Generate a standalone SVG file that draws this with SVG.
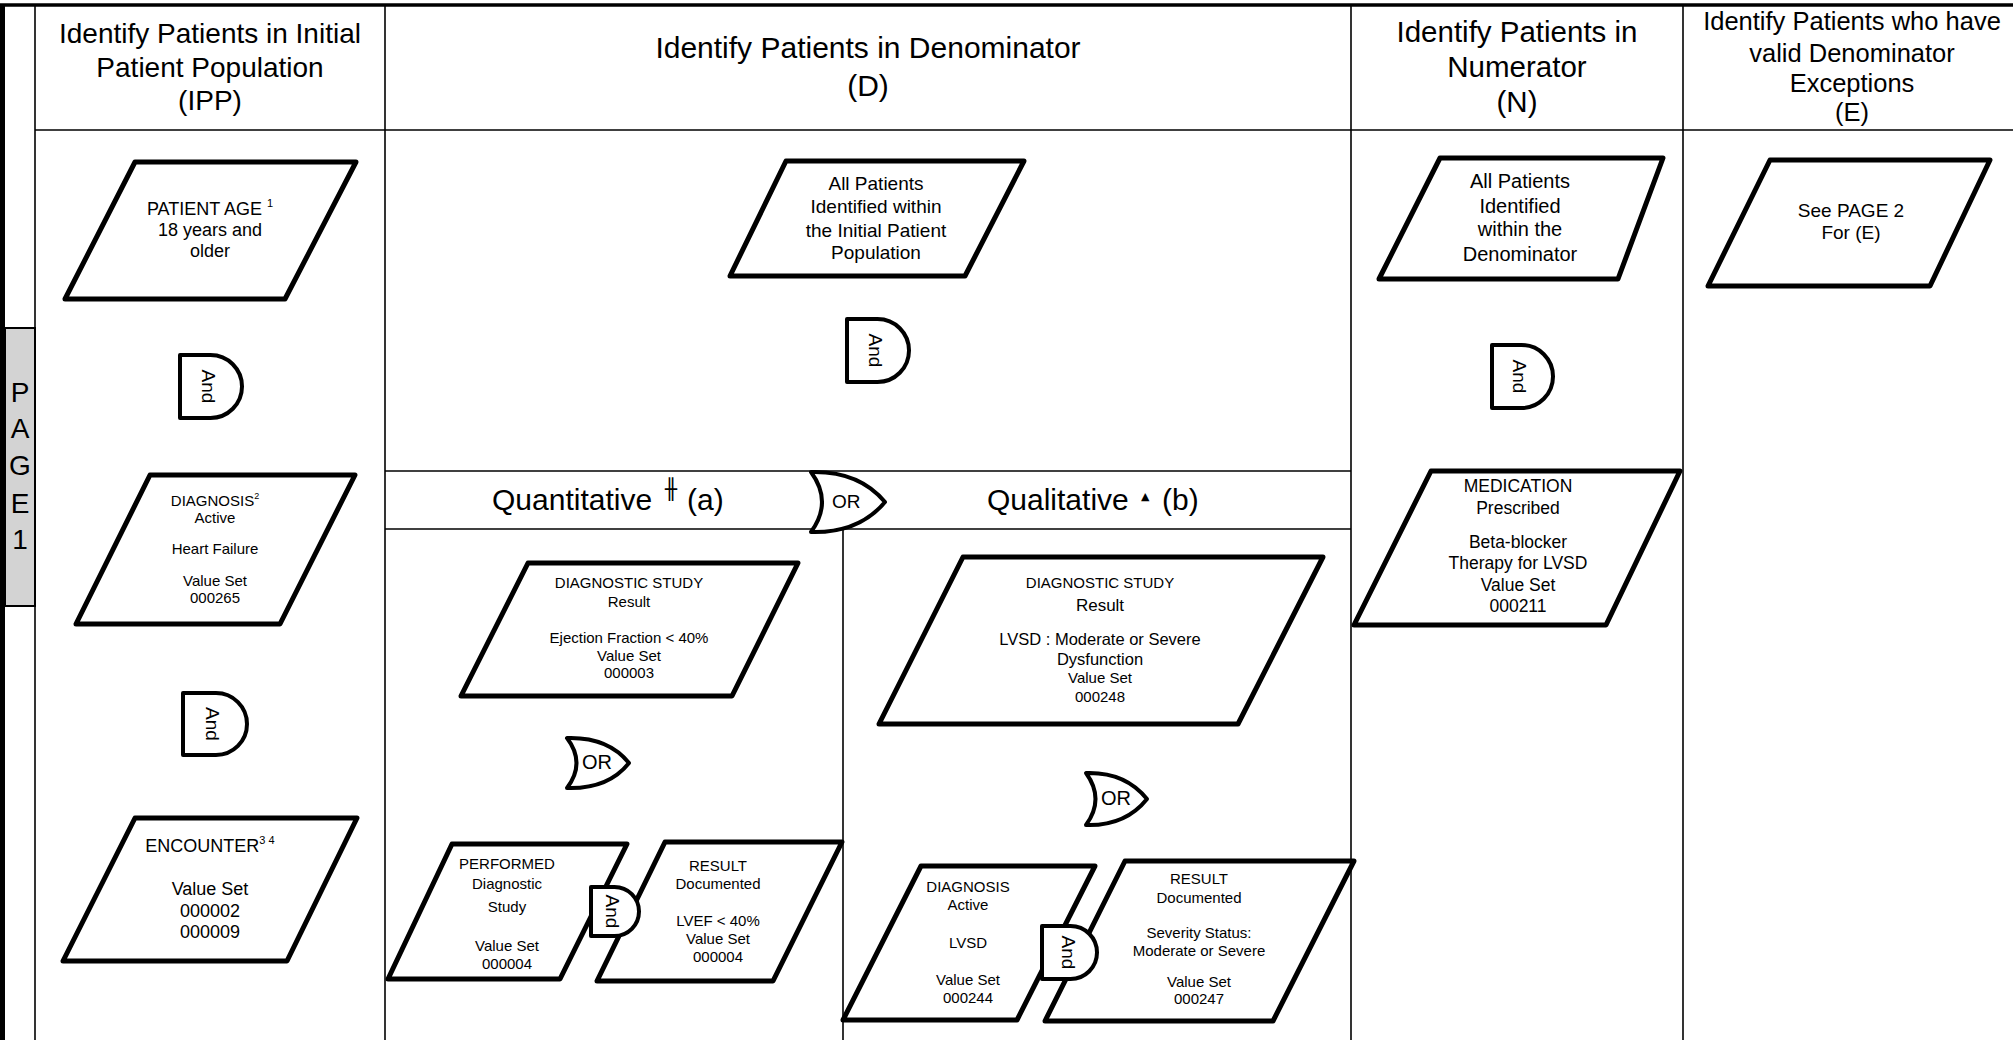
<svg xmlns="http://www.w3.org/2000/svg" width="2013" height="1040" viewBox="0 0 2013 1040">
<style>
text { font-family: "Liberation Sans", Arial, sans-serif; fill: #000; }
.m { text-anchor: middle; }
.ln { stroke: #000; stroke-width: 1.6; fill: none; }
.shape { fill: #fff; stroke: #000; stroke-width: 5; stroke-linejoin: round; }
.gate { fill: #fff; stroke: #000; stroke-width: 4; stroke-linejoin: round; }
.f15 { font-size: 15px; }
.f17 { font-size: 17.5px; }
.f18 { font-size: 18px; }
.f19 { font-size: 19px; }
.f20 { font-size: 20px; }
.g { font-size: 19px; }
.sub { font-size: 30px; }
.sym { font-family: "DejaVu Sans", sans-serif; }
</style>
<rect width="2013" height="1040" fill="#fff"/>

<g id="grid">
  <line class="ln" x1="35" y1="5" x2="35" y2="1040"/>
  <line class="ln" x1="385" y1="5" x2="385" y2="1040"/>
  <line class="ln" x1="1351" y1="5" x2="1351" y2="1040"/>
  <line class="ln" x1="1683" y1="5" x2="1683" y2="1040"/>
  <line class="ln" x1="35" y1="130" x2="2013" y2="130"/>
  <line class="ln" x1="385" y1="471" x2="1351" y2="471"/>
  <line class="ln" x1="385" y1="529" x2="1351" y2="529"/>
  <line class="ln" x1="843" y1="529" x2="843" y2="1040"/>
  <line x1="0" y1="5" x2="2013" y2="5" stroke="#000" stroke-width="3.5"/>
  <line x1="2.5" y1="4" x2="2.5" y2="1040" stroke="#000" stroke-width="5"/>
</g>

<g id="page-tab">
  <rect x="5" y="328" width="30" height="278" fill="#d3d3d3" stroke="#000" stroke-width="2"/>
  <text class="m" x="20" y="402" font-size="28">P</text>
  <text class="m" x="20" y="438" font-size="28">A</text>
  <text class="m" x="20" y="475" font-size="28">G</text>
  <text class="m" x="20" y="513" font-size="28">E</text>
  <text class="m" x="20" y="549" font-size="28">1</text>
</g>

<g id="headers">
  <g id="hdr-ipp" font-size="28">
    <text class="m" x="210" y="43">Identify Patients in Initial</text>
    <text class="m" x="210" y="77">Patient Population</text>
    <text class="m" x="210" y="110">(IPP)</text>
  </g>
  <g id="hdr-d" font-size="30">
    <text class="m" x="868" y="58">Identify Patients in Denominator</text>
    <text class="m" x="868" y="96">(D)</text>
  </g>
  <g id="hdr-n" font-size="29.5">
    <text class="m" x="1517" y="42">Identify Patients in</text>
    <text class="m" x="1517" y="77">Numerator</text>
    <text class="m" x="1517" y="112">(N)</text>
  </g>
  <g id="hdr-e" font-size="25.5">
    <text class="m" x="1852" y="30">Identify Patients who have</text>
    <text class="m" x="1852" y="62">valid Denominator</text>
    <text class="m" x="1852" y="92">Exceptions</text>
    <text class="m" x="1852" y="121">(E)</text>
  </g>
  <g id="sub-quant">
    <text class="sub" x="492" y="510">Quantitative</text>
    <text class="sym" x="665" y="496" font-size="20">╫</text>
    <text class="sub" x="687" y="510">(a)</text>
  </g>
  <g id="sub-qual">
    <text class="sub" x="987" y="510">Qualitative</text>
    <text class="sym" x="1141" y="500" font-size="11">▲</text>
    <text class="sub" x="1162" y="510">(b)</text>
  </g>
</g>

<g id="connectors"></g>

<g id="node-patient-age">
  <polygon class="shape" points="135,162 356,162 285,299 65,299"/>
  <text class="m f18" x="210" y="215">PATIENT AGE <tspan font-size="11" dy="-8">1</tspan></text>
  <text class="m f18" x="210" y="236">18 years and</text>
  <text class="m f18" x="210" y="257">older</text>
</g>

<g id="node-diagnosis-hf">
  <polygon class="shape" points="150,475 355,475 280,624 76,624"/>
  <text class="m f15" x="215" y="506">DIAGNOSIS<tspan font-size="9" dy="-7">2</tspan></text>
  <text class="m f15" x="215" y="523">Active</text>
  <text class="m f15" x="215" y="554">Heart Failure</text>
  <text class="m f15" x="215" y="586">Value Set</text>
  <text class="m f15" x="215" y="603">000265</text>
</g>

<g id="node-encounter">
  <polygon class="shape" points="135,818 357,818 287,961 63,961"/>
  <text class="m f18" x="210" y="852">ENCOUNTER<tspan font-size="11" dy="-8">3 4</tspan></text>
  <text class="m f18" x="210" y="895">Value Set</text>
  <text class="m f18" x="210" y="917">000002</text>
  <text class="m f18" x="210" y="938">000009</text>
</g>

<g id="node-d-all">
  <polygon class="shape" points="786,161 1024,161 965,276 730,276"/>
  <text class="m f19" x="876" y="190">All Patients</text>
  <text class="m f19" x="876" y="213">Identified within</text>
  <text class="m f19" x="876" y="237">the Initial Patient</text>
  <text class="m f19" x="876" y="259">Population</text>
</g>

<g id="node-n-all">
  <polygon class="shape" points="1440,158 1663,158 1618,279 1379,279"/>
  <text class="m f20" x="1520" y="188">All Patients</text>
  <text class="m f20" x="1520" y="213">Identified</text>
  <text class="m f20" x="1520" y="236">within the</text>
  <text class="m f20" x="1520" y="261">Denominator</text>
</g>

<g id="node-e">
  <polygon class="shape" points="1770,160 1990,160 1930,286 1708,286"/>
  <text class="m f19" x="1851" y="217">See PAGE 2</text>
  <text class="m f19" x="1851" y="239">For (E)</text>
</g>

<g id="node-medication">
  <polygon class="shape" points="1431,471 1680,471 1606,625 1354,625"/>
  <text class="m f17" x="1518" y="492">MEDICATION</text>
  <text class="m f17" x="1518" y="514">Prescribed</text>
  <text class="m f17" x="1518" y="548">Beta-blocker</text>
  <text class="m f17" x="1518" y="569">Therapy for LVSD</text>
  <text class="m f17" x="1518" y="591">Value Set</text>
  <text class="m f17" x="1518" y="612">000211</text>
</g>

<g id="node-ds-quant">
  <polygon class="shape" points="528,563 798,563 732,696 461,696"/>
  <text class="m f15" x="629" y="588">DIAGNOSTIC STUDY</text>
  <text class="m f15" x="629" y="607">Result</text>
  <text class="m f15" x="629" y="643">Ejection Fraction &lt; 40%</text>
  <text class="m f15" x="629" y="661">Value Set</text>
  <text class="m f15" x="629" y="678">000003</text>
</g>

<g id="node-performed">
  <polygon class="shape" points="452,844 627,844 560,979 388,979"/>
  <text class="m f15" x="507" y="869">PERFORMED</text>
  <text class="m f15" x="507" y="889">Diagnostic</text>
  <text class="m f15" x="507" y="912">Study</text>
  <text class="m f15" x="507" y="951">Value Set</text>
  <text class="m f15" x="507" y="969">000004</text>
</g>

<g id="node-result-quant">
  <polygon class="shape" points="665,842 842,842 773,981 597,981"/>
  <text class="m f15" x="718" y="871">RESULT</text>
  <text class="m f15" x="718" y="889">Documented</text>
  <text class="m f15" x="718" y="926">LVEF &lt; 40%</text>
  <text class="m f15" x="718" y="944">Value Set</text>
  <text class="m f15" x="718" y="962">000004</text>
</g>

<g id="node-ds-qual">
  <polygon class="shape" points="963,557 1323,557 1238,724 879,724"/>
  <text class="m f15" x="1100" y="588">DIAGNOSTIC STUDY</text>
  <text class="m" x="1100" y="611" font-size="17">Result</text>
  <text class="m" x="1100" y="645" font-size="16.5">LVSD : Moderate or Severe</text>
  <text class="m" x="1100" y="665" font-size="16.5">Dysfunction</text>
  <text class="m f15" x="1100" y="683">Value Set</text>
  <text class="m f15" x="1100" y="702">000248</text>
</g>

<g id="node-diagnosis-lvsd">
  <polygon class="shape" points="921,866 1095,866 1017,1020 843,1020"/>
  <text class="m f15" x="968" y="892">DIAGNOSIS</text>
  <text class="m f15" x="968" y="910">Active</text>
  <text class="m f15" x="968" y="948">LVSD</text>
  <text class="m f15" x="968" y="985">Value Set</text>
  <text class="m f15" x="968" y="1003">000244</text>
</g>

<g id="node-result-qual">
  <polygon class="shape" points="1125,861 1354,861 1273,1021 1045,1021"/>
  <text class="m f15" x="1199" y="884">RESULT</text>
  <text class="m f15" x="1199" y="903">Documented</text>
  <text class="m f15" x="1199" y="938">Severity Status:</text>
  <text class="m f15" x="1199" y="956">Moderate or Severe</text>
  <text class="m f15" x="1199" y="987">Value Set</text>
  <text class="m f15" x="1199" y="1004">000247</text>
</g>

<g id="gate-and-ipp1">
  <path class="gate" d="M180,355 H210.5 A31.5,31.5 0 0 1 210.5,418 H180 Z"/>
  <text class="m g" transform="translate(208,386.5) rotate(90)" dominant-baseline="central">And</text>
</g>
<g id="gate-and-ipp2">
  <path class="gate" d="M183,693 H216 A31,31 0 0 1 216,755 H183 Z"/>
  <text class="m g" transform="translate(212,724) rotate(90)" dominant-baseline="central">And</text>
</g>
<g id="gate-and-d">
  <path class="gate" d="M847,319 H877.5 A31.5,31.5 0 0 1 877.5,382 H847 Z"/>
  <text class="m g" transform="translate(875,350.5) rotate(90)" dominant-baseline="central">And</text>
</g>
<g id="gate-and-n">
  <path class="gate" d="M1492,345 H1521.5 A31.5,31.5 0 0 1 1521.5,408 H1492 Z"/>
  <text class="m g" transform="translate(1519,376.5) rotate(90)" dominant-baseline="central">And</text>
</g>
<g id="gate-and-quant">
  <path class="gate" d="M591,887 H614.5 A24.5,24.5 0 0 1 614.5,936 H591 Z"/>
  <text class="m g" transform="translate(612,911.5) rotate(90)" dominant-baseline="central">And</text>
</g>
<g id="gate-and-qual">
  <path class="gate" d="M1042,926 H1070.5 A26.5,26.5 0 0 1 1070.5,979 H1042 Z"/>
  <text class="m g" transform="translate(1068,952.5) rotate(90)" dominant-baseline="central">And</text>
</g>

<g id="gate-or-sub">
  <path class="gate" d="M811,472 C848,471 870,484 885,502 C870,520 848,533 811,532 Q833,502 811,472 Z"/>
  <text x="832" y="508" font-size="19">OR</text>
</g>
<g id="gate-or-quant">
  <path class="gate" d="M567,738 C598,737 617,748 629,763 C617,778 598,789 567,788 Q586,763 567,738 Z"/>
  <text x="582" y="769" font-size="20">OR</text>
</g>
<g id="gate-or-qual">
  <path class="gate" d="M1086,773 C1117,772 1135,784 1147,799 C1135,814 1117,826 1086,825 Q1105,799 1086,773 Z"/>
  <text x="1101" y="805" font-size="20">OR</text>
</g>
</svg>
